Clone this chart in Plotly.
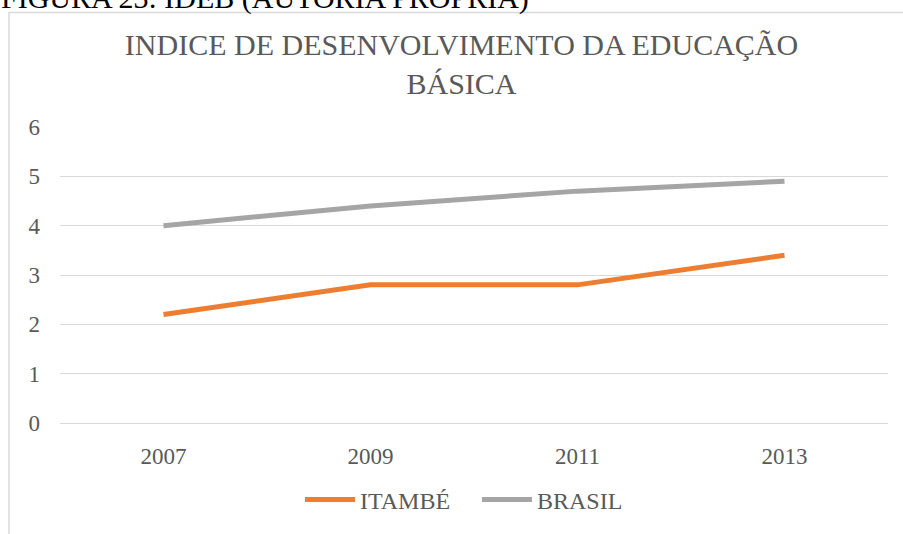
import plotly.graph_objects as go

years = ["2007", "2009", "2011", "2013"]
itambe = [2.2, 2.8, 2.8, 3.4]
brasil = [4.0, 4.4, 4.7, 4.9]
y_ticks = [0, 1, 2, 3, 4, 5, 6]

W, H = 903, 534
ML, MR, MT, MB = 60, 15, 127, 107
ph = H - MT - MB
pw = W - ML - MR

def py(p):
    return (H - MB - p) / ph

def px(p):
    return (p - ML) / pw

serif = "Liberation Serif"
grey_txt = "#595959"

fig = go.Figure()
fig.add_trace(go.Scatter(x=years, y=itambe, mode="lines", name="ITAMBÉ",
                         line=dict(color="#ED7D31", width=5)))
fig.add_trace(go.Scatter(x=years, y=brasil, mode="lines", name="BRASIL",
                         line=dict(color="#A5A5A5", width=5)))

fig.update_layout(
    width=W, height=H,
    margin=dict(l=ML, r=MR, t=MT, b=MB),
    paper_bgcolor="white", plot_bgcolor="white",
    title=dict(text="INDICE DE DESENVOLVIMENTO DA EDUCAÇÃO<br>BÁSICA",
               x=px(461.5), xanchor="center", xref="paper",
               y=1 - 55 / H, yanchor="middle", yref="container",
               font=dict(family=serif, size=30, color=grey_txt)),
    font=dict(family=serif, size=18, color=grey_txt),
    showlegend=True,
    legend=dict(orientation="h", x=px(477), xanchor="center", xref="paper",
                y=py(505), yanchor="middle",
                font=dict(family=serif, size=24, color=grey_txt),
                itemwidth=50, entrywidth=112, traceorder="normal"),
    xaxis=dict(type="category", range=[-0.5, 3.5], showgrid=False,
               showline=False, zeroline=False, ticks="",
               tickfont=dict(family=serif, size=23, color=grey_txt),
               ticklabelstandoff=17),
    yaxis=dict(range=[0, 6], tickvals=y_ticks, showgrid=True,
               gridcolor="#D9D9D9", gridwidth=1.3, zeroline=True,
               zerolinecolor="#D9D9D9", zerolinewidth=1.3, showline=False,
               ticks="", tickfont=dict(family=serif, size=23, color=grey_txt),
               ticklabelstandoff=19),
    shapes=[dict(type="rect", xref="paper", yref="paper",
                 x0=px(9), x1=px(W + 20),
                 y0=py(H + 20), y1=py(11),
                 line=dict(color="#D9D9D9", width=1.5), layer="below")],
    annotations=[dict(text="FIGURA 23: IDEB (AUTORIA PRÓPRIA)",
                      xref="paper", yref="paper", x=px(-1),
                      xanchor="left", y=py(-4), yanchor="middle",
                      showarrow=False,
                      font=dict(family=serif, size=30, color="black"))],
)

fig.write_html("out.html", config={"displayModeBar": False},
               post_script="document.body.style.margin='0';")
